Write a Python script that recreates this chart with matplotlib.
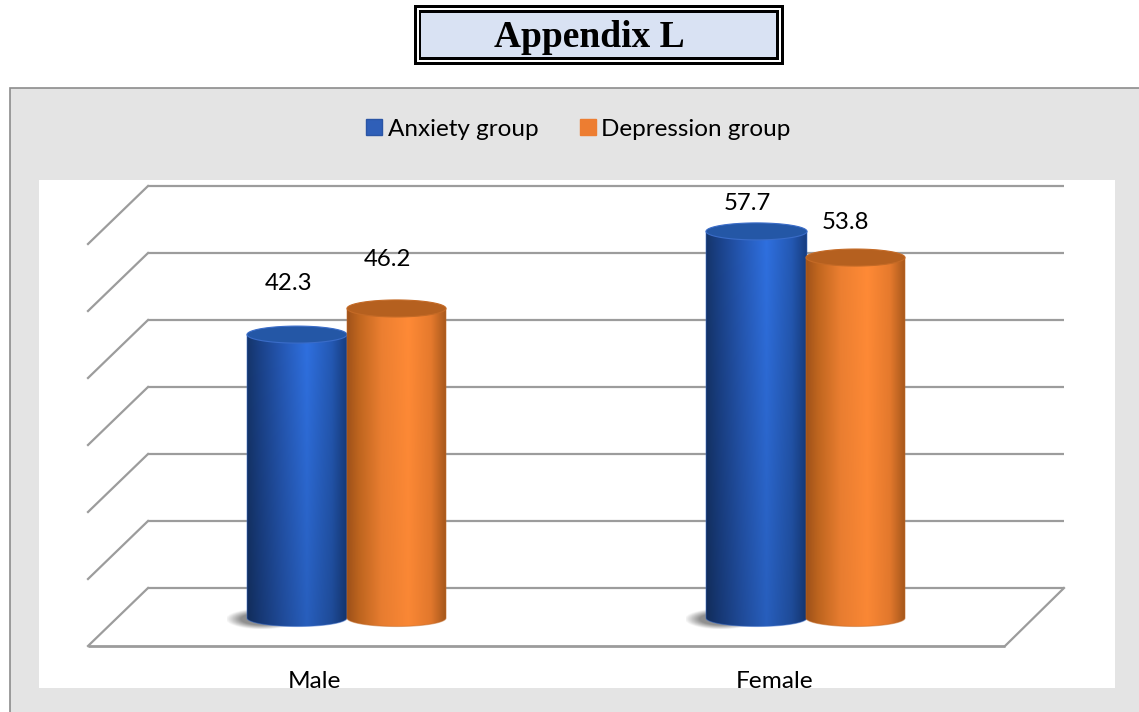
import numpy as np
import matplotlib
matplotlib.use('Agg')
import matplotlib.pyplot as plt
from matplotlib.patches import Rectangle, Patch, Polygon

categories = ['Male', 'Female']
series_names = ['Anxiety group', 'Depression group']
anxiety = [42.3, 57.7]
depression = [46.2, 53.8]
grid_levels = [0, 10, 20, 30, 40, 50, 60]

W, H = 1139, 712
PX_PER_UNIT = 6.7
BASE_PX = 618  # pixel row of the cylinder base centre


##############################
#           LOGIC            #
##############################
def shade(stops, colors, xs):
    colors = np.array([matplotlib.colors.to_rgb(c) for c in colors])
    return np.stack([np.interp(xs, stops, colors[:, i]) for i in range(3)], axis=-1)


def box(ax, x0, y0, x1, y1, color):
    ax.add_patch(Rectangle((x0, y0), x1 - x0, y1 - y0, fc=color, ec='none'))


def units(px):
    return px / PX_PER_UNIT


def cylinder(ax, x0, x1, value, side_stops, side_colors, fade, top_color, rim_color, z):
    xc = (x0 + x1) / 2
    rx = (x1 - x0) / 2
    ry = units(8.5)
    t = np.linspace(0, np.pi, 80)

    # body: straight sides plus the front half of the base ellipse
    outline = np.column_stack([
        np.r_[x0, xc - rx * np.cos(t), x1],
        np.r_[value, -ry * np.sin(t), value],
    ])
    clip = Polygon(outline, closed=True, fc='none', ec='none', transform=ax.transData)
    ax.add_patch(clip)

    xs = np.linspace(0, 1, 200)
    row = shade(side_stops, side_colors, xs)
    down = np.linspace(1, fade, 120)[:, None, None]
    img = ax.imshow(row[None, :, :] * down, extent=(x0, x1, -ry, value), origin='upper',
                    aspect='auto', zorder=z, interpolation='bilinear')
    img.set_clip_path(clip)
    ax.add_patch(Polygon(outline, closed=True, fc='none', ec=rim_color, lw=0.8, alpha=0.5, zorder=z))

    # flat top ellipse
    a = np.linspace(0, 2 * np.pi, 160)
    ax.add_patch(Polygon(np.column_stack([xc + rx * np.cos(a), value + ry * np.sin(a)]),
                         closed=True, fc=top_color, ec=rim_color, lw=0.8, zorder=z + 0.1))


def shadow(ax, x0, x1, y0, y1, z):
    gx, gy = np.meshgrid(np.linspace(-1, 1, 120), np.linspace(-1, 1, 60))
    alpha = (1.05 - np.sqrt(gx ** 2 + gy ** 2)) * 1.8
    rgba = np.zeros(gx.shape + (4,))
    rgba[..., :3] = 0.45
    rgba[..., 3] = np.clip(alpha, 0, 0.8)
    ax.imshow(rgba, extent=(x0, x1, y0, y1), aspect='auto', zorder=z, interpolation='bilinear')


##############################
#     PROGRAM BEGINNING      #
##############################
plt.rcParams['font.family'] = ['Lato', 'DejaVu Sans']
fig = plt.figure(figsize=(W / 100, H / 100), dpi=100, facecolor='white')

# page layer in pixel coordinates: title box and grey chart panel
page = fig.add_axes([0, 0, 1, 1])
page.set_xlim(0, W)
page.set_ylim(H, 0)
page.axis('off')

box(page, 414, 5, 784, 65, 'black')
box(page, 417, 8, 781, 62, 'white')
box(page, 419, 10, 779, 60, 'black')
box(page, 421, 13, 776, 57, '#d9e2f3')
page.text(589.5, 37.5, 'Appendix L', family='Liberation Serif', weight='bold', fontsize=27,
          ha='center', va='center', color='black')

page.add_patch(Rectangle((9.5, 87.5), W, H, fc='#e4e4e4', ec='#8c8c8c', lw=1.2))

# plot area: x in pixels, y in data units
left, right, top, bottom = 39, 1115, 180, 688
ax = fig.add_axes([left / W, 1 - bottom / H, (right - left) / W, (bottom - top) / H])
ax.set_facecolor('white')
for s in ax.spines.values():
    s.set_visible(False)
ax.set_xticks([])
ax.set_yticks([])

back = units(BASE_PX - 588)
front = units(BASE_PX - 646)
grid_color = '#9c9c9c'
for g in grid_levels:
    ax.plot([148, 1064], [g + back, g + back], color=grid_color, lw=1.6, zorder=1, solid_capstyle='butt')
    ax.plot([88, 148], [g + front, g + back], color=grid_color, lw=1.6, zorder=1)
ax.plot([88, 1005], [front, front], color=grid_color, lw=2.0, zorder=1, solid_capstyle='butt')
ax.plot([1005, 1064], [front, back], color=grid_color, lw=1.6, zorder=1)

blue_stops = [0, 0.12, 0.35, 0.6, 0.85, 1]
blue_side = ['#15356b', '#1a4187', '#2558b4', '#2f70e0', '#2459b4', '#173d80']
orange_stops = [0, 0.12, 0.35, 0.62, 0.85, 1]
orange_side = ['#a0521a', '#c0661f', '#ec7f31', '#ff8a36', '#e67a2d', '#a9591c']

blue_x = [(247, 347), (706, 807)]
orange_x = [(347, 446), (806, 905)]
for (x0, x1) in blue_x:
    shadow(ax, x0 - 20, x0 + 50, units(-11), units(9), 2)

for i in range(len(categories)):
    cylinder(ax, *blue_x[i], anxiety[i], blue_stops, blue_side, 0.84, '#2457a6', '#3a6cc8', 3)
    cylinder(ax, *orange_x[i], depression[i], orange_stops, orange_side, 0.98, '#b5601f', '#c46a26', 4)

# value labels above each column
label_x = [[289, 747], [387, 845]]
label_gap = [[51, 28], [49, 35]]
for k, values in enumerate([anxiety, depression]):
    for i, v in enumerate(values):
        ax.text(label_x[k][i], v + units(label_gap[k][i]), f'{v}', fontsize=17.3,
                ha='center', va='center', color='black', zorder=6)

# category names sit on the plot area's lower edge
cat_x = [314, 775]
for c, x in zip(categories, cat_x):
    ax.text(x, units(BASE_PX - 688), c, fontsize=17.6, ha='center', va='baseline', color='black',
            clip_on=True, zorder=6)

ax.set_xlim(left, right)
ax.set_ylim(units(BASE_PX - bottom), units(BASE_PX - top))

handles = [Patch(fc='#2f5fb8', ec='#2a55a5'), Patch(fc='#ed7d31', ec='#ed7d31')]
fig.legend(handles, series_names, loc='center', bbox_to_anchor=(578.5 / W, 1 - 129 / H), ncol=2,
           frameon=False, fontsize=17.5, handlelength=0.66, handleheight=0.66,
           handletextpad=0.22, columnspacing=1.72, labelcolor='black')

fig.savefig('out.png', dpi=100, facecolor='white')
